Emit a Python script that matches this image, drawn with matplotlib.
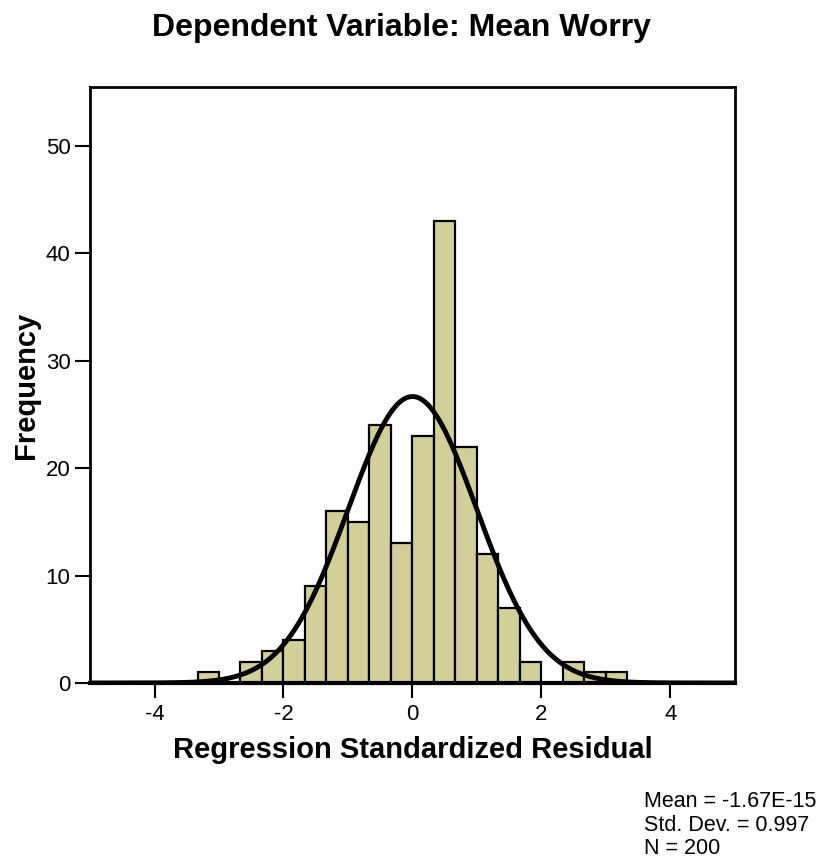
import numpy as np
import matplotlib
matplotlib.use("Agg")
import matplotlib.pyplot as plt

plt.rcParams['font.family'] = ['Liberation Sans', 'DejaVu Sans']

bin_edges = [-10/3, -3.0, -8/3, -7/3, -2.0, -5/3, -4/3, -1.0, -2/3, -1/3, 0.0,
             1/3, 2/3, 1.0, 4/3, 5/3, 2.0, 7/3, 8/3, 3.0, 10/3]
counts = [1, 0, 2, 3, 4, 9, 16, 15, 24, 13, 23, 43, 22, 12, 7, 2, 0, 2, 1, 1]
mean_val = -1.67e-15
sd_val = 0.997
n_val = 200
x_ticks = [-4, -2, 0, 2, 4]
y_ticks = [0, 10, 20, 30, 40, 50]

fig = plt.figure(figsize=(8.19, 8.63), dpi=100)
ax = fig.add_axes([0.1099, 0.2086, 0.7875, 0.6906])

edges = np.array(bin_edges)
widths = np.diff(edges)
for left, w, c in zip(edges[:-1], widths, counts):
    if c > 0:
        ax.bar(left, c, width=w, align='edge', color='#D3CF9A',
               edgecolor='black', linewidth=1.6, zorder=2)

bw = widths[0]
xs = np.linspace(-5, 5, 600)
ys = n_val * bw * np.exp(-0.5 * ((xs - mean_val) / sd_val) ** 2) / (sd_val * np.sqrt(2 * np.pi))
ax.plot(xs, ys, color='black', linewidth=3.5, zorder=3)

ax.set_xlim(-5, 5)
ax.set_ylim(0, 55.5)
ax.set_xticks(x_ticks)
ax.set_xticklabels([str(t) for t in x_ticks])
ax.set_yticks(y_ticks)
ax.tick_params(axis='both', direction='out', length=11, width=1.5, labelsize=16, pad=4)
ax.tick_params(axis='y', pad=3)
for s in ['left', 'right', 'top']:
    ax.spines[s].set_linewidth(2)
ax.spines['bottom'].set_linewidth(3)
ax.spines['bottom'].set_zorder(4)

ax.set_xlabel('Regression Standardized Residual', fontsize=21, fontweight='bold', labelpad=8)
ax.set_ylabel('Frequency', fontsize=21, fontweight='bold', labelpad=4)
fig.text(0.4896, 0.968, 'Dependent Variable: Mean Worry', ha='center', va='center',
         fontsize=23, fontweight='bold')
fig.text(0.786, 0.044, 'Mean = -1.67E-15\nStd. Dev. = 0.997\nN = 200',
         ha='left', va='center', fontsize=15.5, linespacing=1.15)

fig.savefig('out.png', dpi=100)
